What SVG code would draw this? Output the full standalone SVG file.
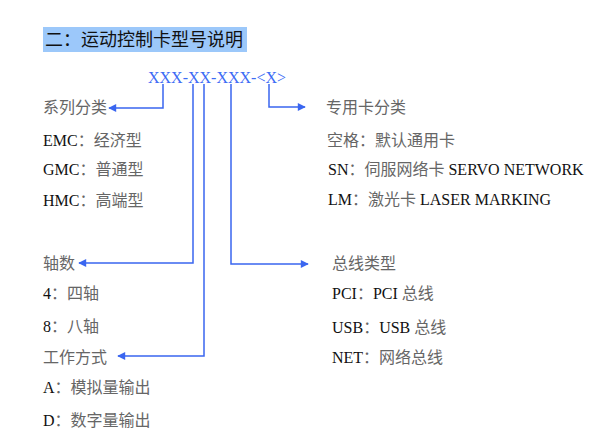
<svg xmlns="http://www.w3.org/2000/svg" width="601" height="437" viewBox="0 0 601 437">
<style>
.t{font-family:"Liberation Serif","Noto Sans CJK SC",serif;font-size:16px;fill:#111}
.c{fill:#666}
.code{font-family:"Liberation Serif",serif;font-size:16px;fill:#3d6cf5}
.ln{fill:none;stroke:#3a66f0;stroke-width:1.5}
</style>
<defs>
<marker id="ah" viewBox="0 0 10 10" refX="9" refY="5" markerWidth="10" markerHeight="8" markerUnits="userSpaceOnUse" orient="auto">
<path d="M0,0 L10,5 L0,10 Z" fill="#3a66f0"/>
</marker>
</defs>
<rect width="601" height="437" fill="#fff"/>
<g id="title">
<rect x="43" y="27" width="204" height="25" fill="#9cc8fa"/>
<text x="45" y="46" style="font-family:'Noto Sans CJK SC',sans-serif;font-size:18px;fill:#111">二：运动控制卡型号说明</text>
</g>
<g id="code">
<text class="code" x="148" y="83" textLength="138" lengthAdjust="spacing">XXX-XX-XXX-&lt;X&gt;</text>
</g>
<g id="connectors">
<path class="ln" d="M163,84 V108 H109" marker-end="url(#ah)"/>
<path class="ln" d="M269,84 V107 H305" marker-end="url(#ah)"/>
<path class="ln" d="M193,84 V263 H79" marker-end="url(#ah)"/>
<path class="ln" d="M231,84 V264 H308" marker-end="url(#ah)"/>
<path class="ln" d="M204,84 V356 H118" marker-end="url(#ah)"/>
</g>
<g id="series">
<text class="t c" x="43" y="113">系列分类</text>
<text class="t" x="43" y="146">EMC<tspan class="c">：经济型</tspan></text>
<text class="t" x="43" y="175">GMC<tspan class="c">：普通型</tspan></text>
<text class="t" x="43" y="206">HMC<tspan class="c">：高端型</tspan></text>
</g>
<g id="special">
<text class="t c" x="326" y="113">专用卡分类</text>
<text class="t c" x="327" y="146">空格：默认通用卡</text>
<text class="t" x="328" y="175">SN<tspan class="c">：伺服网络卡 </tspan>SERVO NETWORK</text>
<text class="t" x="328" y="205">LM<tspan class="c">：激光卡 </tspan>LASER MARKING</text>
</g>
<g id="axes">
<text class="t c" x="43" y="269">轴数</text>
<text class="t" x="43" y="299">4<tspan class="c">：四轴</tspan></text>
<text class="t" x="43" y="332">8<tspan class="c">：八轴</tspan></text>
</g>
<g id="mode">
<text class="t c" x="43" y="363">工作方式</text>
<text class="t" x="43" y="393">A<tspan class="c">：模拟量输出</tspan></text>
<text class="t" x="43" y="426">D<tspan class="c">：数字量输出</tspan></text>
</g>
<g id="bus">
<text class="t c" x="332" y="269">总线类型</text>
<text class="t" x="332" y="299">PCI<tspan class="c">：</tspan>PCI <tspan class="c">总线</tspan></text>
<text class="t" x="332" y="333">USB<tspan class="c">：</tspan>USB <tspan class="c">总线</tspan></text>
<text class="t" x="332" y="363">NET<tspan class="c">：网络总线</tspan></text>
</g>
</svg>
